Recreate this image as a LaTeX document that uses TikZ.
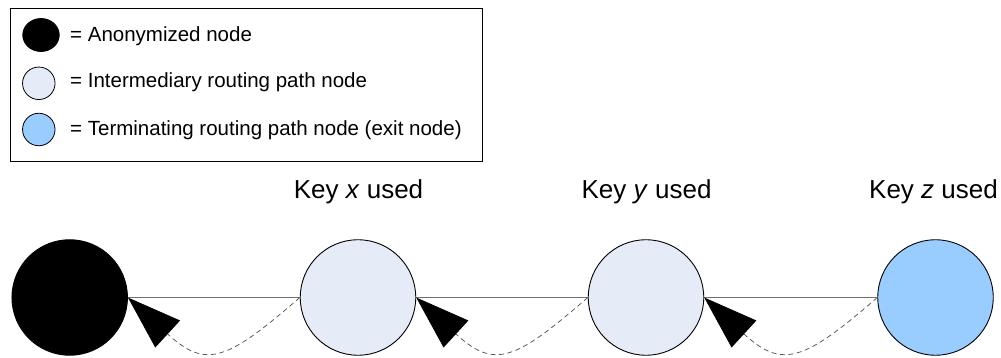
\documentclass[tikz,border=0pt]{standalone}
\usepackage{fontspec}
\setmainfont{Liberation Sans}
\usetikzlibrary{arrows.meta,shapes.geometric}
\definecolor{lightnode}{HTML}{E6ECF7}
\definecolor{exitnode}{HTML}{99CCFF}
\definecolor{linkgray}{HTML}{707070}
\definecolor{dashgray}{HTML}{555555}
\begin{document}
\begin{tikzpicture}[x=1pt,y=1pt,
  bignode/.style={circle,draw=black,line width=0.9pt,minimum size=115.5pt,inner sep=0pt},
  smallnode/.style={circle,draw=black,line width=0.8pt,minimum size=32.5pt,inner sep=0pt},
  legtext/.style={anchor=base west,inner sep=0pt,font=\fontsize{20.5}{24}\selectfont},
  keytext/.style={anchor=base,inner sep=0pt,font=\fontsize{26}{30}\selectfont},
  link/.style={draw=linkgray,line width=1.4pt},
  back/.style={draw=dashgray,line width=0.75pt,dash pattern=on 5pt off 3.5pt,
    -{Triangle[length=54pt,width=36.5pt,color=black]}}]
\useasboundingbox (0,0) rectangle (1001,358);
% legend
\node[draw,line width=0.8pt,minimum width=472pt,minimum height=153.2pt,
  anchor=north west,inner sep=0pt] (legend) at (10,349.7) {};
\node[ellipse,draw=black,fill=black,line width=0.8pt,minimum width=36.5pt,
  minimum height=33pt,inner sep=0pt] (lA) at (41,323) {};
\node[smallnode,fill=lightnode] (lB) at (38.8,274.7) {};
\node[smallnode,fill=exitnode] (lC) at (38.8,228.5) {};
\node[legtext] (tA) at (70,316.3) {= Anonymized node};
\node[legtext] (tB) at (70,270.7) {= Intermediary routing path node};
\node[legtext] (tC) at (70,222) {= Terminating routing path node (exit node)};
% main nodes
\node[bignode,fill=black] (a) at (69.7,60.5) {};
\node[bignode,fill=lightnode] (b) at (358,60.5) {};
\node[bignode,fill=lightnode] (c) at (646,60.5) {};
\node[bignode,fill=exitnode] (d) at (935.5,60.5) {};
% key labels
\node[keytext] (kb) at (358.5,159.7) {Key \textit{x} used};
\node[keytext] (kc) at (646.5,159.7) {Key \textit{y} used};
\node[keytext] (kd) at (933.5,159.7) {Key \textit{z} used};
% links
\draw[link] (a.east) -- (b.west);
\draw[link] (b.east) -- (c.west);
\draw[link] (c.east) -- (d.west);
% return paths
\draw[back] (b.west) .. controls +(-73.2,-63.6) and +(78.1,-71.7) .. (a.east);
\draw[back] (c.west) .. controls +(-73.2,-63.6) and +(78.1,-71.7) .. (b.east);
\draw[back] (d.west) .. controls +(-73.2,-63.6) and +(78.1,-71.7) .. (c.east);
\end{tikzpicture}
\end{document}
